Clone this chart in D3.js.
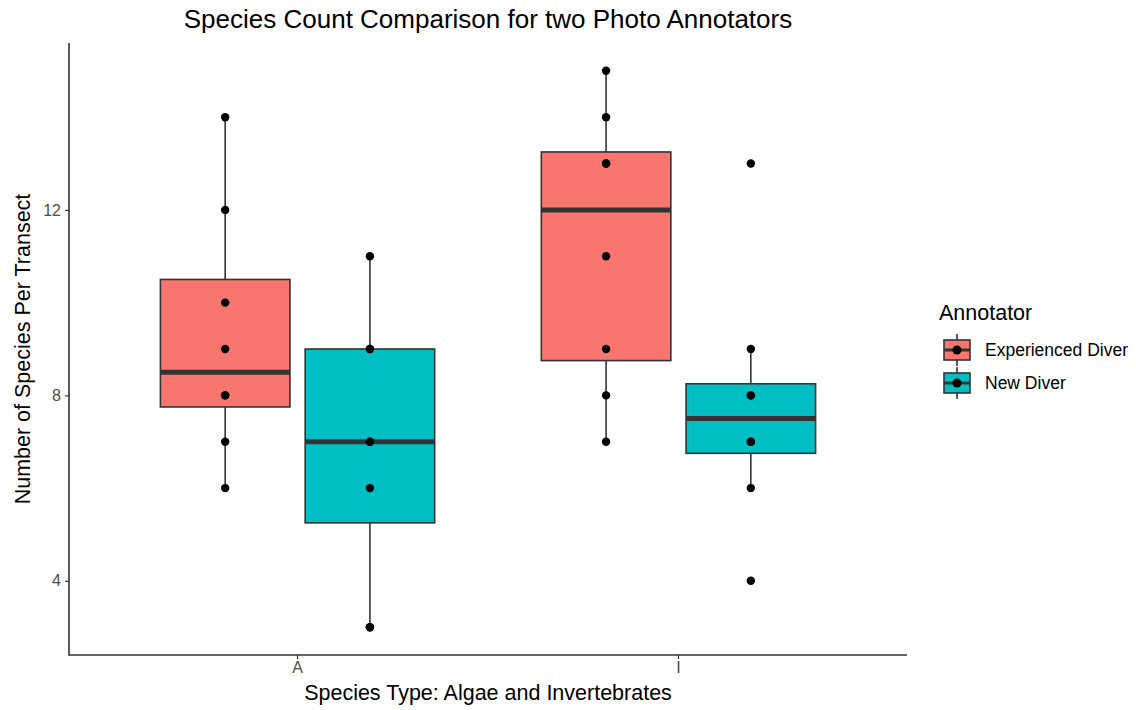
<!DOCTYPE html>
<html><head><meta charset="utf-8">
<script src="https://cdn.jsdelivr.net/npm/d3@7"></script>
<style>body{margin:0;background:#fff}svg{display:block}text{font-family:"Liberation Sans",Arial,sans-serif}</style>
</head><body>
<script>
// Data
const categories = ["A", "I"];
const annotators = ["Experienced Diver", "New Diver"];
const expA = [6, 7, 8, 8, 9, 10, 12, 14];
const newA = [3, 3, 6, 7, 7, 9, 9, 11];
const expI = [7, 8, 9, 11, 13, 13, 14, 15];
const newI = [4, 6, 7, 7, 8, 8, 9, 13];
const yTicks = [4, 8, 12];
const colors = ["#F8766D", "#00BFC4"];

const groups = [
  {cat: "A", ann: 0, values: expA},
  {cat: "A", ann: 1, values: newA},
  {cat: "I", ann: 0, values: expI},
  {cat: "I", ann: 1, values: newI}
];

const W = 1136, H = 710;
const mLeft = 69, mRight = 907, mTop = 43, mBottom = 655;

const svg = d3.select("body").append("svg").attr("width", W).attr("height", H);

const y = d3.scaleLinear().domain([2.4, 15.6]).range([mBottom, mTop]);
const xc = d3.scaleLinear().domain([0.4, 2.6]).range([mLeft, mRight]);
const catIndex = c => categories.indexOf(c) + 1;
const dodge = 0.19, boxW = 0.34;

function stats(v) {
  const s = v.slice().sort(d3.ascending);
  const q1 = d3.quantile(s, 0.25), med = d3.quantile(s, 0.5), q3 = d3.quantile(s, 0.75);
  const iqr = q3 - q1;
  const lo = d3.min(s.filter(d => d >= q1 - 1.5 * iqr));
  const hi = d3.max(s.filter(d => d <= q3 + 1.5 * iqr));
  return {q1, med, q3, lo, hi};
}

const g = svg.append("g");
groups.forEach(gr => {
  const st = stats(gr.values);
  const cx = catIndex(gr.cat) + (gr.ann === 0 ? -dodge : dodge);
  const x0 = xc(cx - boxW / 2), x1 = xc(cx + boxW / 2), xm = xc(cx);
  g.append("line").attr("x1", xm).attr("x2", xm).attr("y1", y(st.hi)).attr("y2", y(st.q3))
    .attr("stroke", "#333").attr("stroke-width", 1.6);
  g.append("line").attr("x1", xm).attr("x2", xm).attr("y1", y(st.q1)).attr("y2", y(st.lo))
    .attr("stroke", "#333").attr("stroke-width", 1.6);
  g.append("rect").attr("x", x0).attr("y", y(st.q3)).attr("width", x1 - x0)
    .attr("height", y(st.q1) - y(st.q3)).attr("fill", colors[gr.ann])
    .attr("stroke", "#333").attr("stroke-width", 1.6);
  g.append("line").attr("x1", x0).attr("x2", x1).attr("y1", y(st.med)).attr("y2", y(st.med))
    .attr("stroke", "#333").attr("stroke-width", 5);
  g.selectAll(null).data(gr.values).enter().append("circle")
    .attr("cx", xm).attr("cy", d => y(d)).attr("r", 4.2).attr("fill", "#000");
});

// Axes
const yAxis = svg.append("g").attr("transform", `translate(${mLeft},0)`)
  .call(d3.axisLeft(y).tickValues(yTicks).tickSize(4).tickPadding(4));
yAxis.select(".domain").remove();
yAxis.selectAll(".tick line").attr("stroke", "#333").attr("stroke-width", 1.2);
yAxis.selectAll(".tick text").attr("fill", "#4D4D4D").style("font-size", "16px")
  .style("font-family", "'Liberation Sans', Arial, sans-serif");

const xb = d3.scaleBand().domain(categories).range([xc(0.5), xc(2.5)]);
const xAxis = svg.append("g").attr("transform", `translate(0,${mBottom})`)
  .call(d3.axisBottom(xb).tickSize(4).tickPadding(3));
xAxis.select(".domain").remove();
xAxis.selectAll(".tick line").attr("stroke", "#333").attr("stroke-width", 1.2);
xAxis.selectAll(".tick text").attr("fill", "#4D4D4D").style("font-size", "16px")
  .style("font-family", "'Liberation Sans', Arial, sans-serif");

svg.append("line").attr("x1", mLeft).attr("x2", mLeft).attr("y1", mTop).attr("y2", mBottom + 0.6)
  .attr("stroke", "#333").attr("stroke-width", 1.6);
svg.append("line").attr("x1", mLeft - 0.6).attr("x2", mRight).attr("y1", mBottom).attr("y2", mBottom)
  .attr("stroke", "#333").attr("stroke-width", 1.6);

// Titles
svg.append("text").attr("x", (mLeft + mRight) / 2).attr("y", 28).attr("text-anchor", "middle")
  .style("font-size", "26px").attr("fill", "#000").text("Species Count Comparison for two Photo Annotators");
svg.append("text").attr("x", (mLeft + mRight) / 2).attr("y", 700).attr("text-anchor", "middle")
  .style("font-size", "21.5px").attr("fill", "#000").text("Species Type: Algae and Invertebrates");
svg.append("text").attr("transform", `translate(30,${(mTop + mBottom) / 2}) rotate(-90)`)
  .attr("text-anchor", "middle").style("font-size", "21.5px").attr("fill", "#000")
  .text("Number of Species Per Transect");

// Legend
const lg = svg.append("g");
lg.append("text").attr("x", 939).attr("y", 320).style("font-size", "21.5px").attr("fill", "#000").text("Annotator");
annotators.forEach((a, i) => {
  const cy = 350 + i * 33;
  const kx = 957;
  lg.append("line").attr("x1", kx).attr("x2", kx).attr("y1", cy - 16).attr("y2", cy + 16)
    .attr("stroke", "#333").attr("stroke-width", 1.6);
  lg.append("rect").attr("x", kx - 13).attr("y", cy - 10).attr("width", 26).attr("height", 20)
    .attr("fill", colors[i]).attr("stroke", "#333").attr("stroke-width", 1.6);
  lg.append("line").attr("x1", kx - 13).attr("x2", kx + 13).attr("y1", cy).attr("y2", cy)
    .attr("stroke", "#333").attr("stroke-width", 3);
  lg.append("circle").attr("cx", kx).attr("cy", cy).attr("r", 4.5).attr("fill", "#000");
  lg.append("text").attr("x", 985).attr("y", cy + 6).style("font-size", "17.5px").attr("fill", "#000").text(a);
});
</script>
</body></html>
